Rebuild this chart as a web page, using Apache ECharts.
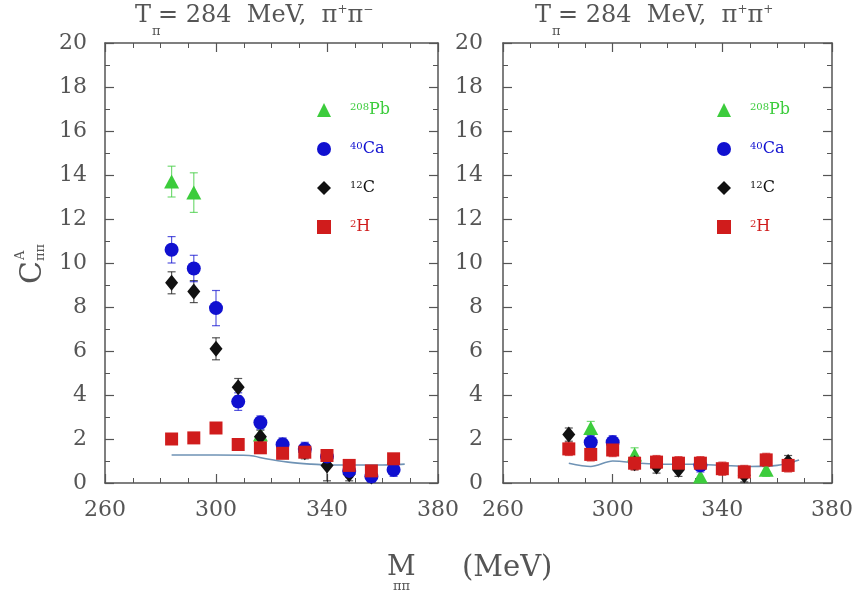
<!DOCTYPE html>
<html><head><meta charset="utf-8">
<script src="https://cdn.jsdelivr.net/npm/echarts@6/dist/echarts.min.js"></script>
<style>html,body{margin:0;padding:0;background:#fff}#c{width:856px;height:594px}</style>
</head><body><div id="c"></div>
<script>
// ---------- data ----------
const mass = [284, 292, 300, 308, 316, 324, 332, 340, 348, 356, 364];
const xMin = 260, xMax = 380, xStep = 40;
const yMin = 0, yMax = 20, yStep = 2;
const seriesNames = ['208Pb', '40Ca', '12C', '2H'];

// left panel: pi+ pi-
const pbLeft    = [13.7, 13.2, null, null, 2.2, null, null, null, null, null, null];
const pbLeftErr = [0.7, 0.9, 0, 0, 0.3, 0, 0, 0, 0, 0, 0];
const caLeft    = [10.6, 9.75, 7.95, 3.7, 2.75, 1.75, 1.55, 1.2, 0.55, 0.3, 0.6];
const caLeftErr = [0.6, 0.6, 0.8, 0.4, 0.3, 0.3, 0.3, 0.3, 0.3, 0.3, 0.3];
const cLeft     = [9.1, 8.7, 6.1, 4.35, 2.1, 1.7, 1.4, 0.8, 0.4, 0.3, 0.9];
const cLeftErr  = [0.5, 0.5, 0.5, 0.4, 0.3, 0.3, 0.3, 0.7, 0.3, 0.3, 0.3];
const hLeft     = [2.0, 2.05, 2.5, 1.75, 1.6, 1.35, 1.4, 1.25, 0.8, 0.55, 1.1];
const hLeftErr  = [0.2, 0.2, 0.2, 0.2, 0.2, 0.2, 0.2, 0.2, 0.2, 0.2, 0.2];
const curveLeftX = [284, 300, 312, 318, 326, 334, 340, 350, 360, 368];
const curveLeftY = [1.27, 1.27, 1.25, 1.1, 0.95, 0.86, 0.82, 0.82, 0.82, 0.86];

// right panel: pi+ pi+
const pbRight    = [null, 2.5, null, 1.3, null, null, 0.3, null, null, 0.6, null];
const pbRightErr = [0, 0.3, 0, 0.3, 0, 0, 0.3, 0, 0, 0.3, 0];
const caRight    = [null, 1.85, 1.85, null, null, null, 0.8, null, null, null, null];
const caRightErr = [0, 0.3, 0.3, 0, 0, 0, 0.3, 0, 0, 0, 0];
const cRight     = [2.2, null, null, 0.9, 0.75, 0.6, null, null, 0.35, null, 0.95];
const cRightErr  = [0.3, 0, 0, 0.3, 0.3, 0.3, 0, 0, 0.3, 0, 0.3];
const hRight     = [1.55, 1.3, 1.5, 0.9, 0.95, 0.9, 0.9, 0.65, 0.5, 1.05, 0.8];
const hRightErr  = [0.3, 0.3, 0.3, 0.3, 0.3, 0.3, 0.3, 0.3, 0.3, 0.3, 0.3];
const curveRightX = [284, 292, 300, 310, 320, 330, 340, 350, 360, 368];
const curveRightY = [0.9, 0.75, 1.0, 0.9, 0.85, 0.85, 0.8, 0.75, 0.8, 1.05];

// ---------- styles ----------
const colors = {'208Pb': '#3ccc3c', '40Ca': '#1010d0', '12C': '#111111', '2H': '#d01c1c'};
const symbols = {'208Pb': 'triangle', '40Ca': 'circle', '12C': 'diamond', '2H': 'rect'};
const sizes = {'208Pb': [15, 14], '40Ca': 14, '12C': [13, 16], '2H': 13};
const axisColor = '#555';
const FONT = 'DejaVu Serif';

function pts(vals) { return mass.map((m, i) => vals[i] == null ? null : [m, vals[i]]).filter(Boolean); }
function errs(vals, e) { return mass.map((m, i) => vals[i] == null ? null : [m, vals[i] - e[i], vals[i] + e[i]]).filter(Boolean); }

function errSeries(name, vals, e, gi) {
  return {
    type: 'custom', name: name + '_err' + gi, xAxisIndex: gi * 2, yAxisIndex: gi * 2,
    data: errs(vals, e), clip: true, z: 2,
    renderItem: function (params, api) {
      const lo = api.coord([api.value(0), api.value(1)]);
      const hi = api.coord([api.value(0), api.value(2)]);
      const w = 4;
      const st = {stroke: colors[name], lineWidth: 1.2, opacity: 0.7};
      return {type: 'group', children: [
        {type: 'line', shape: {x1: lo[0], y1: lo[1], x2: hi[0], y2: hi[1]}, style: st},
        {type: 'line', shape: {x1: lo[0] - w, y1: lo[1], x2: lo[0] + w, y2: lo[1]}, style: st},
        {type: 'line', shape: {x1: hi[0] - w, y1: hi[1], x2: hi[0] + w, y2: hi[1]}, style: st}
      ]};
    }
  };
}
function ptSeries(name, vals, gi) {
  return {
    type: 'scatter', name: name, xAxisIndex: gi * 2, yAxisIndex: gi * 2,
    data: pts(vals), symbol: symbols[name], symbolSize: sizes[name],
    itemStyle: {color: colors[name], opacity: 1}, z: 3
  };
}
function curveSeries(xs, ys, gi) {
  return {
    type: 'line', name: 'curve' + gi, xAxisIndex: gi * 2, yAxisIndex: gi * 2,
    data: xs.map((x, i) => [x, ys[i]]), symbol: 'none', smooth: 0.3,
    lineStyle: {color: '#6f93b5', width: 1.6}, z: 1
  };
}

function xAxes(gi) {
  const base = {
    type: 'value', gridIndex: gi, min: xMin, max: xMax, interval: xStep,
    axisLine: {show: true, onZero: false, lineStyle: {color: axisColor, width: 1.5}},
    axisTick: {show: true, inside: true, length: 9, lineStyle: {color: axisColor, width: 1.2}},
    minorTick: {show: true, splitNumber: 4, length: 5, lineStyle: {color: axisColor, width: 1}},
    splitLine: {show: false}
  };
  return [
    Object.assign({}, base, {position: 'bottom',
      axisLabel: {show: true, color: axisColor, fontFamily: FONT, fontSize: 22, margin: 16, showMinLabel: true, showMaxLabel: true}}),
    Object.assign({}, base, {position: 'top', axisLabel: {show: false}})
  ];
}
function yAxes(gi) {
  const base = {
    type: 'value', gridIndex: gi, min: yMin, max: yMax, interval: yStep,
    axisLine: {show: true, onZero: false, lineStyle: {color: axisColor, width: 1.5}},
    axisTick: {show: true, inside: true, length: 9, lineStyle: {color: axisColor, width: 1.2}},
    minorTick: {show: true, splitNumber: 2, length: 5, lineStyle: {color: axisColor, width: 1}},
    splitLine: {show: false}
  };
  return [
    Object.assign({}, base, {position: 'left',
      axisLabel: {show: true, color: axisColor, fontFamily: FONT, fontSize: 22, margin: gi === 0 ? 18 : 20, showMinLabel: true, showMaxLabel: true}}),
    Object.assign({}, base, {position: 'right', axisLabel: {show: false}})
  ];
}

const supMap = {'208Pb': ['208', 'Pb'], '40Ca': ['40', 'Ca'], '12C': ['12', 'C'], '2H': ['2', 'H']};
function legend(left) {
  return {
    left: left, top: 97, orient: 'vertical', itemGap: 23, itemWidth: 14, itemHeight: 14,
    selectedMode: false,
    data: seriesNames.map(n => ({name: n, textStyle: {color: colors[n]}})),
    formatter: n => '{s|' + supMap[n][0] + '}' + supMap[n][1],
    textStyle: {fontFamily: FONT, fontSize: 16, lineHeight: 16, padding: [0, 0, 0, 14],
      rich: {s: {fontFamily: FONT, fontSize: 10, verticalAlign: 'top', lineHeight: 16}}}
  };
}

const series = [
  curveSeries(curveLeftX, curveLeftY, 0),
  errSeries('208Pb', pbLeft, pbLeftErr, 0), errSeries('12C', cLeft, cLeftErr, 0),
  errSeries('40Ca', caLeft, caLeftErr, 0), errSeries('2H', hLeft, hLeftErr, 0),
  ptSeries('208Pb', pbLeft, 0), ptSeries('12C', cLeft, 0), ptSeries('40Ca', caLeft, 0), ptSeries('2H', hLeft, 0),
  curveSeries(curveRightX, curveRightY, 1),
  errSeries('208Pb', pbRight, pbRightErr, 1), errSeries('12C', cRight, cRightErr, 1),
  errSeries('40Ca', caRight, caRightErr, 1), errSeries('2H', hRight, hRightErr, 1),
  ptSeries('208Pb', pbRight, 1), ptSeries('12C', cRight, 1), ptSeries('40Ca', caRight, 1), ptSeries('2H', hRight, 1)
];

const txt = (x, y, text, size, extra) => Object.assign({type: 'text', x: x, y: y,
  style: {text: text, fill: '#555', font: size + 'px "' + FONT + '"', textVerticalAlign: 'middle'}}, extra || {});

function title(x0, sign) {
  return [
    txt(x0, 16, 'T', 24),
    txt(x0 + 17, 32, 'π', 13),
    {type: 'text', x: x0 + 23, y: 16, style: {
      text: '= 284  MeV,  π{s|+}π{s|' + sign + '}', fill: '#555',
      font: '24px "' + FONT + '"', textVerticalAlign: 'middle',
      rich: {s: {fontSize: 12, fontFamily: FONT, verticalAlign: 'top', lineHeight: 24, fill: '#555'}}}}
  ];
}

const option = {
  animation: false,
  backgroundColor: '#fff',
  grid: [
    {left: 105, top: 43, width: 333, height: 440},
    {left: 503, top: 43, width: 334, height: 440}
  ],
  xAxis: xAxes(0).concat(xAxes(1)),
  yAxis: yAxes(0).concat(yAxes(1)),
  legend: [legend(312), legend(712)],
  series: series,
  graphic: [].concat(
    title(135, '−'), title(535, '+'),
    [
      {type: 'group', x: 33, y: 284, rotation: Math.PI / 2, children: [
        txt(0, 0, 'C', 30),
        txt(24, -12, 'A', 13),
        txt(23, 8, 'ππ', 13)
      ]},
      txt(387, 568, 'M', 28),
      txt(393, 587, 'ππ', 13),
      txt(462, 568, '(MeV)', 29)
    ]
  )
};
const chart = echarts.init(document.getElementById('c'), null, {renderer: 'canvas'});
chart.setOption(option);
</script></body></html>
